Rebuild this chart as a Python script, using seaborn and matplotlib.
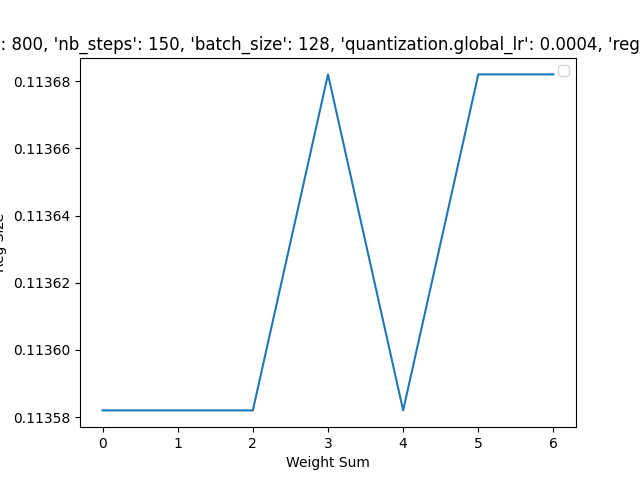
import matplotlib
matplotlib.use("Agg")
import matplotlib.pyplot as plt
import seaborn as sns
import pandas as pd

# weight sum vs reg size
weight_sum = [0, 1, 2, 3, 4, 5, 6]
reg_size = [0.113582, 0.113582, 0.113582, 0.113682, 0.113582, 0.113682, 0.113682]

title = ("{'nb_epochs': 800, 'nb_steps': 150, 'batch_size': 128, "
         "'quantization.global_lr': 0.0004, 'reg_lambda': 0.1}")

df = pd.DataFrame({"Weight Sum": weight_sum, "Reg Size": reg_size})

fig, ax = plt.subplots(figsize=(6.4, 4.8), dpi=100)
sns.lineplot(data=df, x="Weight Sum", y="Reg Size", ax=ax)
ax.set_title(title)
ax.yaxis.set_label_coords(-0.147, 0.5)
ax.legend()
fig.savefig("out.png")
